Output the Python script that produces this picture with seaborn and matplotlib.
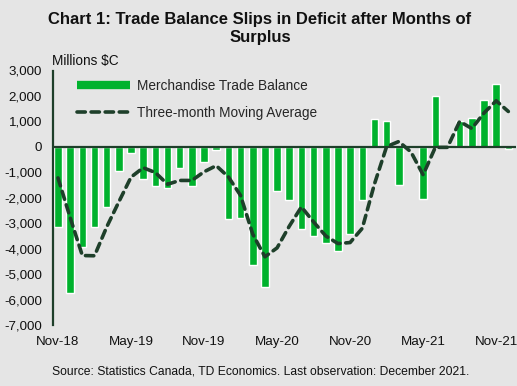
import matplotlib
matplotlib.use("Agg")
import matplotlib.pyplot as plt
import seaborn as sns
import pandas as pd
from matplotlib.lines import Line2D
from matplotlib.ticker import FuncFormatter

months = ["Nov-18", "Dec-18", "Jan-19", "Feb-19", "Mar-19", "Apr-19", "May-19", "Jun-19",
          "Jul-19", "Aug-19", "Sep-19", "Oct-19", "Nov-19", "Dec-19", "Jan-20", "Feb-20",
          "Mar-20", "Apr-20", "May-20", "Jun-20", "Jul-20", "Aug-20", "Sep-20", "Oct-20",
          "Nov-20", "Dec-20", "Jan-21", "Feb-21", "Mar-21", "Apr-21", "May-21", "Jun-21",
          "Jul-21", "Aug-21", "Sep-21", "Oct-21", "Nov-21", "Dec-21"]

trade_balance = [-3130, -5750, -3940, -3150, -2360, -960, -240, -1260, -1520, -1620,
                 -830, -1520, -600, -110, -2830, -2800, -4650, -5510, -1750, -2100,
                 -3230, -3520, -3760, -4110, -3410, -2070, 1100, 1010, -1480, 0,
                 -2050, 1990, 0, 1010, 1150, 1850, 2470, -100]

moving_avg = [-1220, -2780, -4270, -4280, -3150, -2160, -1190, -820, -1010, -1470,
              -1320, -1320, -980, -740, -1180, -1910, -3430, -4320, -3970, -3120,
              -2360, -2950, -3500, -3800, -3760, -3200, -1460, 10, 210, -200,
              -1100, -20, -20, 1000, 720, 1330, 1810, 1390]

tick_labels = ["Nov-18", "May-19", "Nov-19", "May-20", "Nov-20", "May-21", "Nov-21"]

bar_color = "#00B22D"
line_color = "#1E3F2A"
bg = "#E5E5E5"
dash = (0, (2.3, 1.6))

df = pd.DataFrame({"month": months, "balance": trade_balance})

sns.set_theme(style="white")
plt.rcParams["font.family"] = ["Liberation Sans", "DejaVu Sans"]

fig = plt.figure(figsize=(5.17, 3.86), dpi=100, facecolor=bg)
ax = fig.add_axes([53/517, 1-325/386, (516-53)/517, (325-70.5)/386])
ax.set_facecolor(bg)

sns.barplot(data=df, x="month", y="balance", color=bar_color, saturation=1,
            width=0.62, ax=ax, zorder=2)
ax.plot(range(len(months)), moving_avg, color=line_color, lw=2.6,
        linestyle=dash, dash_capstyle="round", zorder=3)

ax.axhline(0, color=line_color, lw=1.6, zorder=4)

ax.set_ylim(-7000, 3000)
ax.set_xlim(-0.41, 37.63)
ax.set_yticks(range(-7000, 3001, 1000))
ax.yaxis.set_major_formatter(FuncFormatter(lambda v, p: f"{int(v):,}"))
idx = [months.index(t) for t in tick_labels]
ax.set_xticks(idx)
ax.set_xticklabels(tick_labels)
ax.tick_params(axis="both", length=0, labelsize=9.6, colors="#111111")
ax.tick_params(axis="x", pad=8)
ax.tick_params(axis="y", pad=8)
ax.set_xlabel("")
ax.set_ylabel("")

for s in ["top", "right", "bottom"]:
    ax.spines[s].set_visible(False)
ax.spines["left"].set_color(line_color)
ax.spines["left"].set_linewidth(1.6)

handles = [Line2D([0], [0], color=bar_color, lw=6, solid_capstyle="butt"),
           Line2D([0], [0], color=line_color, lw=2.6, linestyle=dash,
                  dash_capstyle="round")]
leg = ax.legend(handles, ["Merchandise Trade Balance", "Three-month Moving Average"],
                loc="upper left", bbox_to_anchor=(0.025, 1.015), frameon=False,
                fontsize=9.8, handlelength=3.9, handletextpad=0.5, labelspacing=0.95)

fig.text(260/517, 1-28.5/386, "Chart 1: Trade Balance Slips in Deficit after Months of\nSurplus",
         ha="center", va="center", fontsize=12, fontweight="bold", color="#111111",
         linespacing=1.22)
fig.text(52/517, 1-61/386, "Millions $C", ha="left", va="center", fontsize=9.8, color="#111111")
fig.text(260.5/517, 1-371/386,
         "Source: Statistics Canada, TD Economics. Last observation: December 2021.",
         ha="center", va="center", fontsize=8.7, color="#111111")

fig.savefig("out.png", dpi=100, facecolor=bg)
